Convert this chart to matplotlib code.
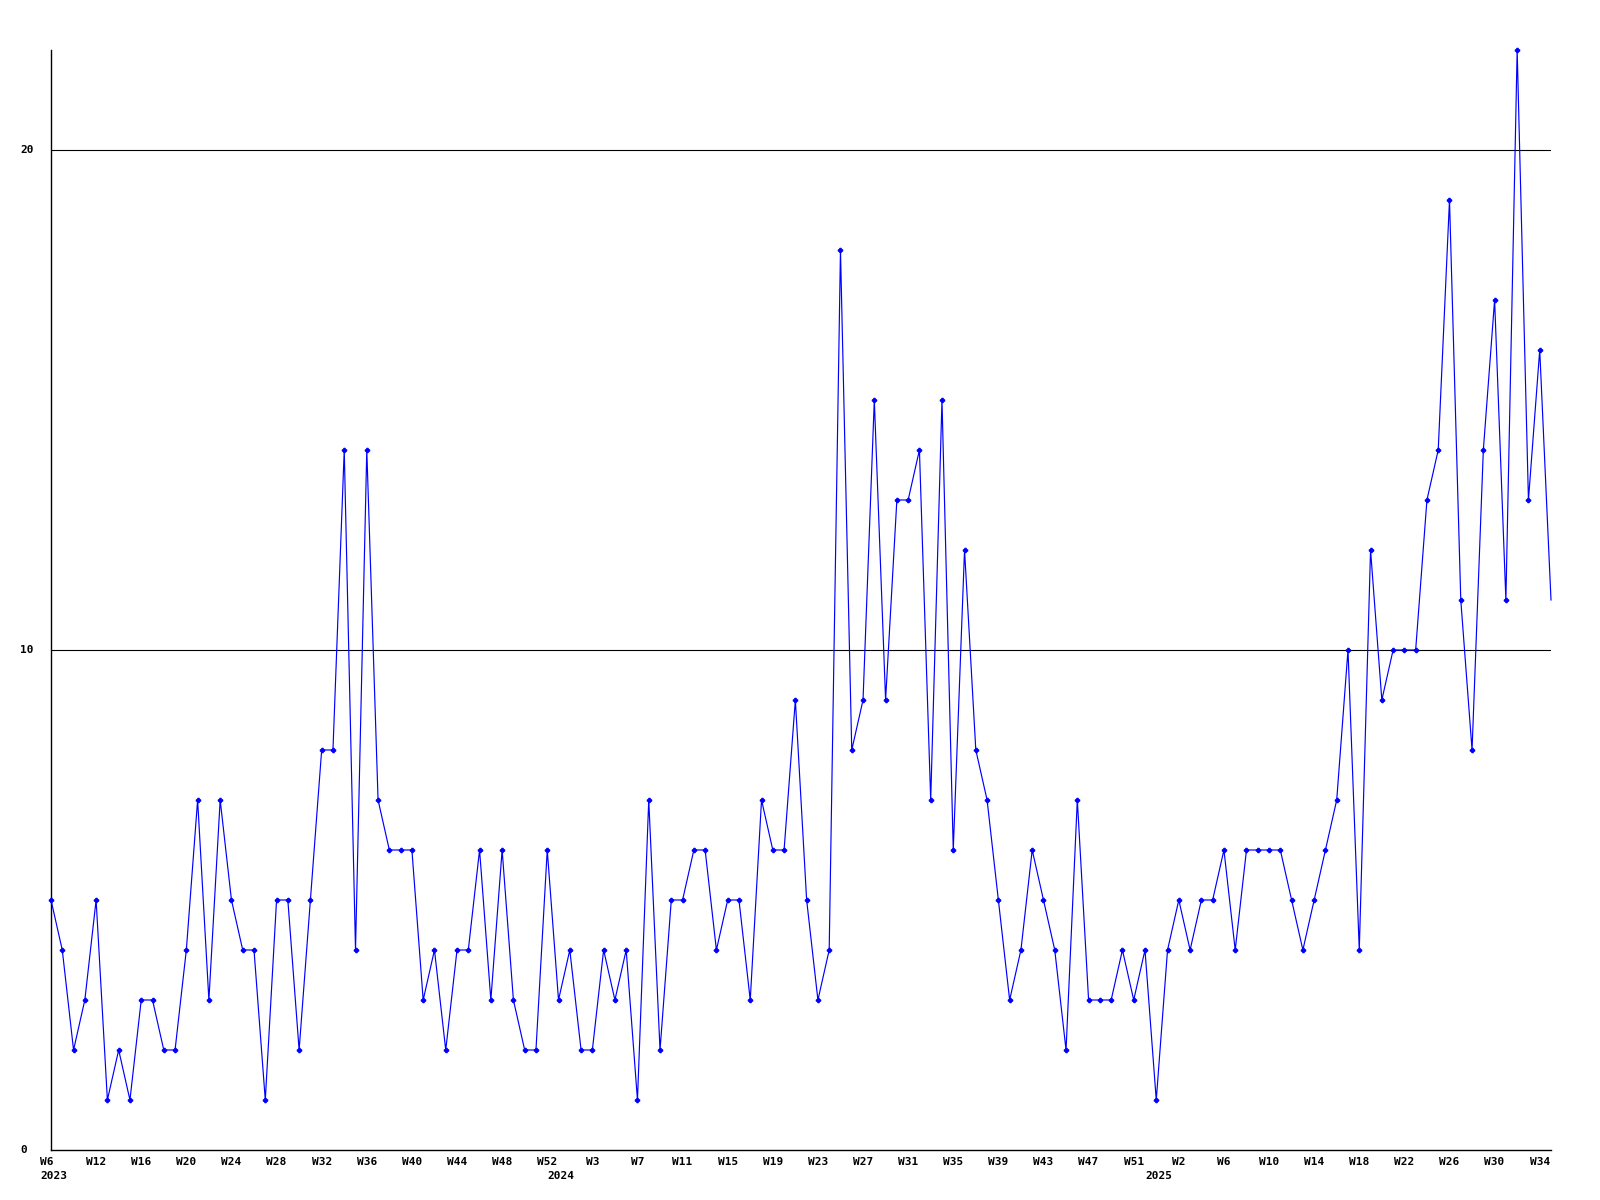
import matplotlib
matplotlib.use("Agg")
import matplotlib.pyplot as plt

# weekly counts, first point = 2023 W6
counts_2023 = [5, 4, 2, 3, 5, 1, 2, 1, 3, 3, 2, 2, 4, 7, 3, 7, 5, 4, 4, 1, 5, 5, 2,
               5, 8, 8, 14, 4, 14, 7, 6, 6, 6, 3, 4, 2, 4, 4, 6, 3, 6, 3, 2, 2, 6]
counts_2024 = [3, 4, 2, 2, 4, 3, 4, 1, 7, 2, 5, 5, 6, 6, 4, 5, 5, 3, 7, 6, 6, 9, 5, 3,
               4, 18, 8, 9, 15, 9, 13, 13, 14, 7, 15, 6, 12, 8, 7, 5, 3, 4, 6, 5, 4, 2,
               7, 3, 3, 3, 4, 3, 4]
counts_2025 = [1, 4, 5, 4, 5, 5, 6, 4, 6, 6, 6, 6, 5, 4, 5, 6, 7, 10, 4, 12, 9, 10, 10,
               10, 13, 14, 19, 11, 8, 14, 17, 11, 22, 13, 16, 11]

week_labels = ["W6", "W12", "W16", "W20", "W24", "W28", "W32", "W36", "W40", "W44",
               "W48", "W52", "W3", "W7", "W11", "W15", "W19", "W23", "W27", "W31",
               "W35", "W39", "W43", "W47", "W51", "W2", "W6", "W10", "W14", "W18",
               "W22", "W26", "W30", "W34"]
years = ["2023", "2024", "2025"]

counts = counts_2023 + counts_2024 + counts_2025
x = list(range(len(counts)))

fig = plt.figure(figsize=(16, 12), dpi=100)
ax = fig.add_axes([51 / 1600, 50 / 1200, 1500 / 1600, 1100 / 1200])

for v in (10, 20):
    ax.axhline(v, color="black", lw=0.8, zorder=1)

# last point sits on the right edge, drawn without a marker
ax.plot(x, counts, color="#0000ff", lw=0.85, marker="P", ms=3,
        markevery=list(range(len(counts) - 1)), zorder=3, clip_on=False)

ax.set_xlim(0, len(counts) - 1)
ax.set_ylim(0, max(counts))
ax.set_xticks([])
ax.set_yticks([])
for s in ("top", "right"):
    ax.spines[s].set_visible(False)
for s in ("left", "bottom"):
    ax.spines[s].set_linewidth(1.0)
    ax.spines[s].set_color("black")

font = dict(family="DejaVu Sans Mono", weight="bold", size=8)

# y labels, left aligned at the figure margin
for v in (0, 10, 20):
    fig.text(20 / 1600, ax.transData.transform((0, v))[1] / 1200, str(v),
             ha="left", va="center", **font)

# week labels every 4 points
tr = ax.get_xaxis_transform()
for i, lab in enumerate(week_labels):
    pos = i * 4 if i > 0 else -0.4
    ax.text(pos, -0.011, lab, transform=tr, ha="center", va="center", **font)

# year labels at the first point of each year
year_starts = [0, len(counts_2023), len(counts_2023) + len(counts_2024)]
for pos, yr in zip(year_starts, years):
    ax.text(pos - 0.95, -0.024, yr, transform=tr, ha="left", va="center", **font)

fig.savefig("out.png", dpi=100)
